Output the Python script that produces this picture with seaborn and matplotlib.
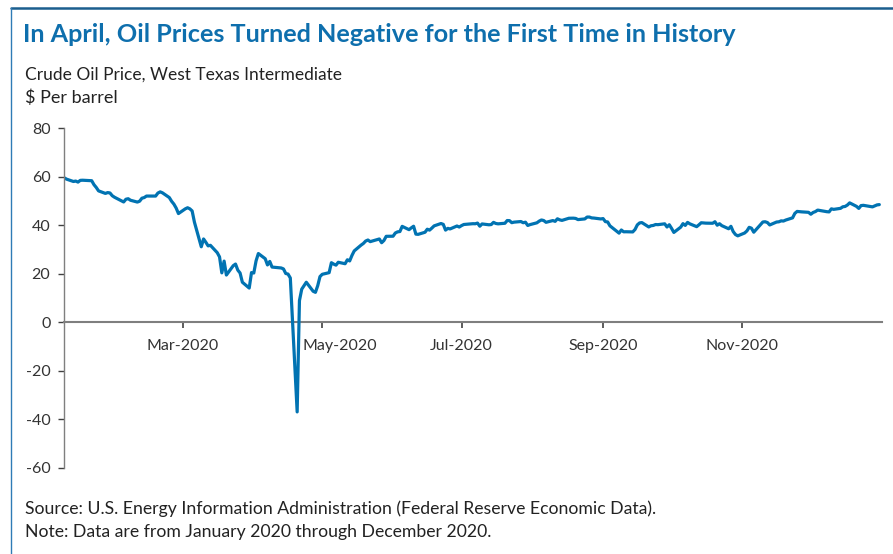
import numpy as np
import pandas as pd
import matplotlib
matplotlib.use("Agg")
import matplotlib.pyplot as plt
import matplotlib.transforms as mtransforms
from matplotlib.lines import Line2D
import seaborn as sns

# ---------------- data (WTI spot, $ per barrel, trading days) ----------------
holidays = ["2020-01-20", "2020-02-17", "2020-04-10", "2020-05-25",
            "2020-07-03", "2020-09-07", "2020-11-26", "2020-12-25"]

jan = [59.56, 59.02, 58.06, 58.23, 57.81, 58.52, 58.58, 58.38, 56.74, 55.59,
       54.19, 53.14, 53.48, 53.33, 52.19, 51.56]
feb = [50.11, 49.61, 50.75, 50.95, 50.32, 49.57, 49.94, 51.17, 51.42, 52.05,
       52.05, 53.29, 53.78, 53.38, 51.43, 49.90, 48.73, 47.09, 44.83]
mar = [46.78, 47.23, 46.78, 45.90, 41.28, 31.13, 34.36, 32.98, 31.50, 31.73,
       28.69, 26.95, 20.37, 25.22, 19.48, 23.33, 24.00, 21.50, 20.30, 16.50,
       14.10, 20.48]
apr = [20.31, 25.32, 28.34, 26.21, 23.63, 25.09, 22.76, 22.39, 22.00, 20.11,
       19.87, 18.27, -36.98, 8.91, 13.64, 15.06, 16.50, 12.78, 12.34, 15.06,
       18.84]
may = [19.78, 20.45, 24.56, 23.99, 23.55, 24.74, 24.14, 25.78, 25.29, 27.56,
       29.43, 31.82, 32.50, 33.49, 33.92, 33.25, 34.35, 32.81, 33.71, 35.44]
jun = [35.49, 36.82, 37.29, 37.41, 39.55, 38.19, 38.94, 39.60, 36.34, 36.26,
       37.12, 38.38, 38.00, 38.84, 39.75, 40.73, 40.37, 38.01, 38.72, 38.49,
       39.70, 39.27]
jul = [39.86, 40.32, 40.65, 40.62, 40.90, 39.62, 40.55, 40.20, 40.29, 41.20,
       40.75, 40.59, 40.83, 41.95, 41.92, 41.07, 41.29, 41.54, 41.04, 41.27,
       39.92, 40.27]
aug = [41.01, 41.70, 42.19, 41.95, 41.22, 41.94, 41.61, 42.67, 42.24, 42.01,
       42.89, 42.89, 42.93, 42.82, 42.34, 42.62, 43.39, 43.39, 43.04, 42.97,
       42.61]
sep = [42.76, 41.51, 41.37, 39.77, 36.76, 38.05, 37.30, 37.33, 37.26, 38.28,
       40.16, 40.97, 41.11, 39.31, 39.80, 39.93, 40.31, 40.25, 40.60, 39.29,
       40.22]
oct_ = [38.72, 37.05, 39.22, 40.67, 39.95, 41.19, 40.59, 39.43, 40.20, 41.04,
        40.96, 40.88, 40.83, 41.46, 40.03, 40.64, 39.85, 38.56, 39.57, 37.39,
        36.17, 35.64]
nov = [36.81, 37.66, 39.15, 38.79, 37.14, 40.29, 41.36, 41.45, 41.12, 40.13,
       41.34, 41.43, 41.82, 41.74, 42.15, 43.06, 44.91, 45.71, 45.53, 45.34]
dec = [44.55, 45.28, 45.64, 46.26, 45.76, 45.60, 45.52, 46.78, 46.56, 46.98,
       47.62, 47.76, 48.33, 49.24, 47.80, 46.96, 48.12, 48.23, 47.59, 48.00,
       48.40, 48.52]

y_ticks = [-60, -40, -20, 0, 20, 40, 60, 80]
x_ticks = ["2020-03-01", "2020-05-01", "2020-07-01", "2020-09-01", "2020-11-01"]
x_tick_labels = ["Mar-2020", "May-2020", "Jul-2020", "Sep-2020", "Nov-2020"]

title = "In April, Oil Prices Turned Negative for the First Time in History"
subtitle1 = "Crude Oil Price, West Texas Intermediate"
subtitle2 = "$ Per barrel"
source = "Source: U.S. Energy Information Administration (Federal Reserve Economic Data)."
note = "Note: Data are from January 2020 through December 2020."

# ---------------- build frame ----------------
prices = jan + feb + mar + apr + may + jun + jul + aug + sep + oct_ + nov + dec
dates = pd.bdate_range("2020-01-09", "2020-12-31", freq="C", holidays=holidays)
n = min(len(dates), len(prices))
df = pd.DataFrame({"date": dates[:n], "price": prices[:n]})

# ---------------- figure ----------------
sns.set_theme(style="white")
FONT = "Lato"
plt.rcParams["font.family"] = [FONT, "DejaVu Sans"]

W, H = 893, 554
fig = plt.figure(figsize=(W / 100, H / 100), dpi=100)
fig.patch.set_facecolor("white")

L, R, T, B = 64.3, 881.6, 128.3, 467.7
ax = fig.add_axes([L / W, 1 - B / H, (R - L) / W, (B - T) / H])

sns.lineplot(data=df, x="date", y="price", ax=ax, color="#0173B2",
             linewidth=2.3, legend=False)

ax.set_xlim(pd.Timestamp("2020-01-09"), pd.Timestamp("2021-01-01"))
ax.set_ylim(-60, 80)
ax.set_yticks(y_ticks)
ax.set_yticklabels([str(v) for v in y_ticks])
ax.set_xticks(pd.to_datetime(x_ticks))
ax.set_xticklabels(x_tick_labels)
ax.set_xlabel("")
ax.set_ylabel("")

for s in ["top", "right"]:
    ax.spines[s].set_visible(False)
ax.spines["bottom"].set_position(("data", 0))
ax.spines["bottom"].set_color("#7f7f7f")
ax.spines["bottom"].set_linewidth(1.5)
ax.spines["left"].set_color("#7f7f7f")
ax.spines["left"].set_linewidth(1.0)
ax.spines["bottom"].set_zorder(1)

ax.tick_params(axis="x", direction="out", length=4, width=1.2, color="#404040",
               pad=8, labelsize=11.5, labelcolor="#333333", bottom=True)
ax.tick_params(axis="y", direction="out", length=4, width=1.0, color="#404040",
               pad=6, labelsize=11.5, labelcolor="#333333", left=True)
ax.grid(False)
ax.set_facecolor("white")

# the reference nudges the May label to the right, clear of the April spike
shift = mtransforms.ScaledTranslation(18 / 100, 0, fig.dpi_scale_trans)
for lab in ax.get_xticklabels():
    if lab.get_text() == "May-2020":
        lab.set_transform(lab.get_transform() + shift)


def fit_text(x_px, y_px, s, target_w, **kw):
    t = fig.text(x_px / W, 1 - y_px / H, s, va="center", ha="left", **kw)
    r = fig.canvas.get_renderer()
    w = t.get_window_extent(renderer=r).width
    t.set_fontsize(t.get_fontsize() * target_w / w)
    return t


fit_text(23, 35, title, 714, fontsize=20, fontweight="bold", color="#0E6FAD")
fit_text(25, 75, subtitle1, 318, fontsize=12.5, color="#222222")
fit_text(25, 98, subtitle2, 93, fontsize=12.5, color="#222222")
fit_text(25, 509, source, 631, fontsize=12.5, color="#222222")
fit_text(25, 532, note, 468, fontsize=12.5, color="#222222")

# frame border (top and left)
fig.add_artist(Line2D([11 / W, 1], [1 - 8 / H, 1 - 8 / H], transform=fig.transFigure,
                      color="#1B5E8E", linewidth=1.8))
fig.add_artist(Line2D([11 / W, 11 / W], [0, 1 - 8 / H], transform=fig.transFigure,
                      color="#2F7BB6", linewidth=1.0))

fig.savefig("out.png", dpi=100, facecolor="white")
